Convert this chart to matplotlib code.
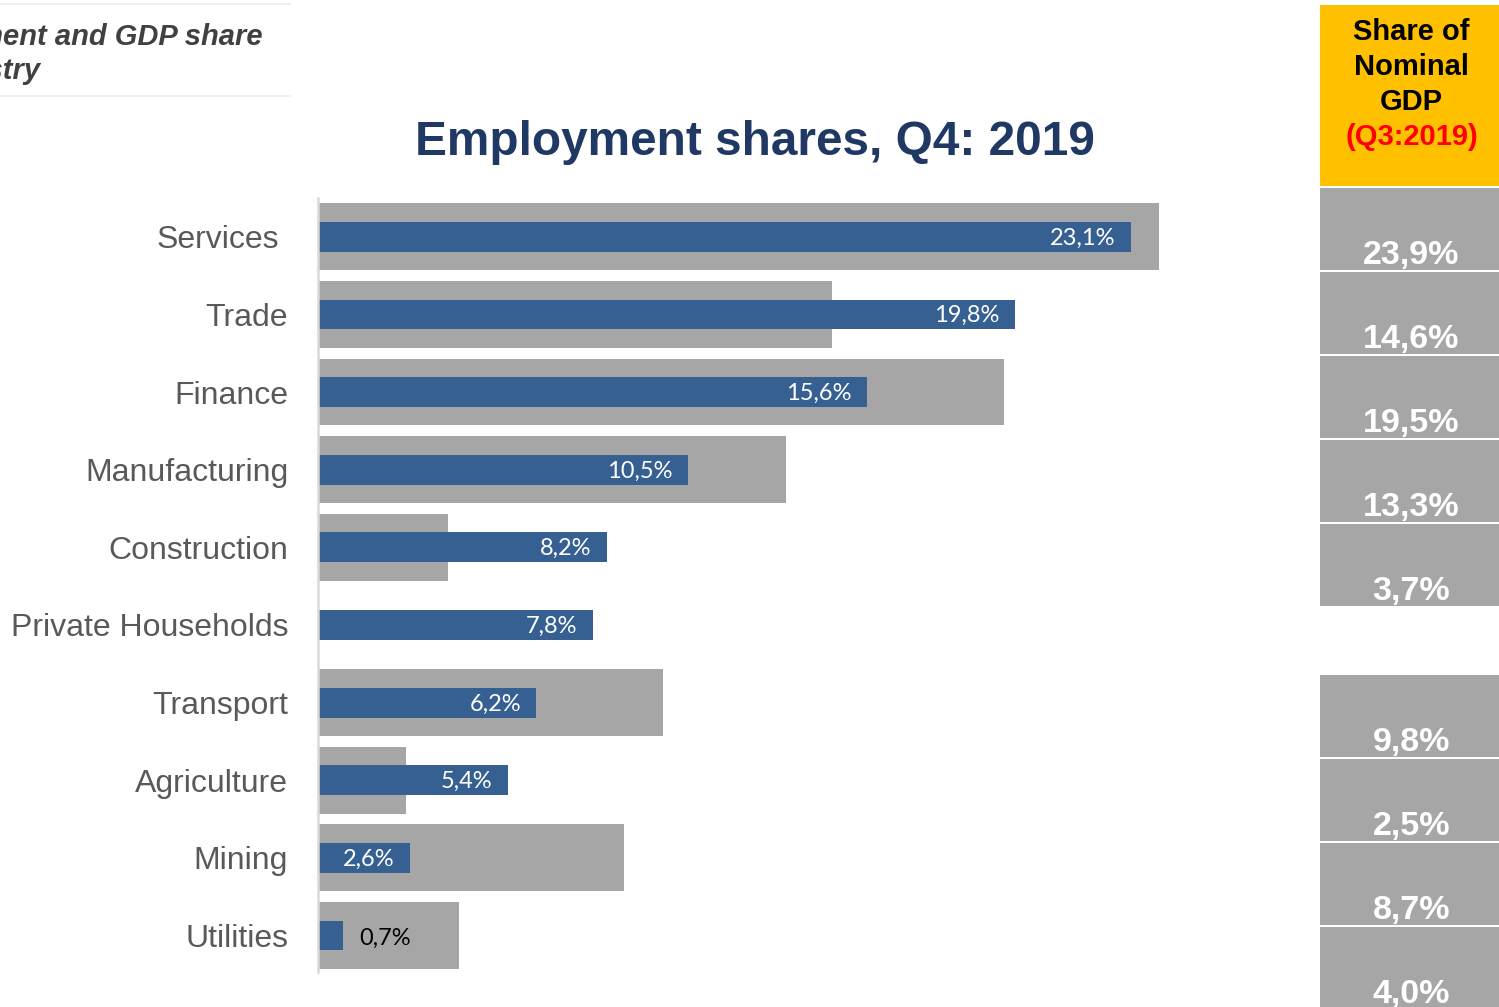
"""Employment shares vs share of nominal GDP by industry."""

import matplotlib
matplotlib.use("Agg")
import matplotlib.pyplot as plt
from matplotlib.patches import Rectangle
from matplotlib.transforms import ScaledTranslation

W, H, DPI = 1499, 1007, 100

INDUSTRIES = [
    "Services", "Trade", "Finance", "Manufacturing", "Construction",
    "Private Households", "Transport", "Agriculture", "Mining", "Utilities",
]
EMPLOYMENT = [23.1, 19.8, 15.6, 10.5, 8.2, 7.8, 6.2, 5.4, 2.6, 0.7]
GDP_SHARE = [23.9, 14.6, 19.5, 13.3, 3.7, None, 9.8, 2.5, 8.7, 4.0]

TITLE = "Employment shares, Q4: 2019"
HEADER_LINES = ["Share of", "Nominal", "GDP"]
HEADER_PERIOD = "(Q3:2019)"

BLUE = "#366092"
GREY = "#A6A6A6"
YELLOW = "#FFC000"
ARIAL = "Liberation Sans"
CALIBRI = "Lato"


def fmt(v):
    return f"{v:.1f}".replace(".", ",") + "%"


fig = plt.figure(figsize=(W / DPI, H / DPI), dpi=DPI)

# main chart, placed in pixel terms
left, right, top, bottom = 318, 1300, 198, 972
px_per_unit = 35.2
ax = fig.add_axes([left / W, 1 - bottom / H, (right - left) / W, (bottom - top) / H])
ax.set_xlim(0, (right - left) / px_per_unit)
ax.set_ylim(9.47, -0.5)

ypos = list(range(len(INDUSTRIES)))
gdp_y = [y for y, g in zip(ypos, GDP_SHARE) if g is not None]
gdp_v = [g for g in GDP_SHARE if g is not None]
ax.barh(gdp_y, gdp_v, height=0.86, color=GREY, zorder=1)
ax.barh(ypos, EMPLOYMENT, height=0.385, color=BLUE, zorder=2)

for y, v in zip(ypos, EMPLOYMENT):
    if v < 1:
        ax.annotate(fmt(v), (v, y), xytext=(12, -2), textcoords="offset points",
                    ha="left", va="center", fontsize=17, family=CALIBRI,
                    color="black", zorder=3)
    else:
        ax.annotate(fmt(v), (v, y), xytext=(-11, -1), textcoords="offset points",
                    ha="right", va="center", fontsize=17, family=CALIBRI,
                    color="white", zorder=3)

ax.set_yticks(ypos)
ax.set_yticklabels(INDUSTRIES, fontsize=23, family=ARIAL, color="#595959")
ax.tick_params(axis="y", length=0, pad=21.5)
ax.set_xticks([])
# "Services" sits a little further left in the original
lbl = ax.get_yticklabels()[0]
lbl.set_transform(lbl.get_transform() + ScaledTranslation(-9 / DPI, 0, fig.dpi_scale_trans))

for side in ["top", "right", "bottom"]:
    ax.spines[side].set_visible(False)
ax.spines["left"].set_color("#D9D9D9")
ax.spines["left"].set_linewidth(1.8)

# overlay in pixel coordinates for title, header and GDP table
ov = fig.add_axes([0, 0, 1, 1], zorder=-1)
ov.set_xlim(0, W)
ov.set_ylim(H, 0)
ov.axis("off")

ov.text(755, 155, TITLE, ha="center", va="baseline", fontsize=34.4,
        fontweight="bold", family=ARIAL, color="#1F3864")

# cropped page header on the left
ov.plot([0, 290], [4, 4], color="#EEEEEE", lw=1.2)
ov.plot([0, 290], [96, 96], color="#EEEEEE", lw=1.2)
ov.text(263, 45, "Employment and GDP share", ha="right", va="baseline", fontsize=21,
        fontweight="bold", style="italic", family=ARIAL, color="#404040")
ov.text(40, 79, "by industry", ha="right", va="baseline", fontsize=21,
        fontweight="bold", style="italic", family=ARIAL, color="#404040")

# GDP share table on the right
tx0, tw = 1320, 179
ov.add_patch(Rectangle((tx0, 5), tw, 181, color=YELLOW, lw=0))
for i, line in enumerate(HEADER_LINES):
    ov.text(tx0 + tw / 2 + 2, 40 + 35 * i, line, ha="center", va="baseline",
            fontsize=21, fontweight="bold", family=ARIAL, color="black")
ov.text(tx0 + tw / 2 + 2, 145, HEADER_PERIOD, ha="center", va="baseline",
        fontsize=21, fontweight="bold", family=ARIAL, color="#FF0000")

row = 0
for i, g in enumerate(GDP_SHARE):
    if g is None:
        continue
    cell_top = 188 + 84 * row + (67 if row >= 5 else 0)
    ov.add_patch(Rectangle((tx0, cell_top), tw, 82, color=GREY, lw=0))
    ov.text(tx0 + tw / 2 + 2, cell_top + 76, fmt(g), ha="center", va="baseline",
            fontsize=24.5, fontweight="bold", family=ARIAL, color="white")
    row += 1

fig.savefig("out.png", dpi=DPI)
